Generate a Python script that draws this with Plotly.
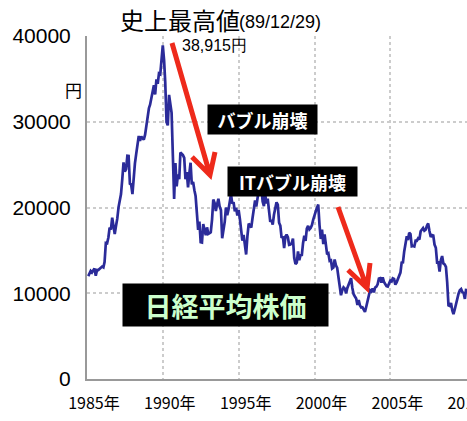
import pandas as pd
import plotly.graph_objects as go

# Nikkei 225 month-end closes (yen)
close_1985_1989 = [
    11992, 12322, 12590, 12426, 12758, 12882, 12044, 12720, 12700, 12828, 12960, 13113,
    13024, 13641, 15860, 15826, 16507, 17654, 17435, 18820, 17853, 16910, 17852, 18701,
    20048, 20767, 21567, 23275, 25268, 24176, 24488, 26029, 26011, 22765, 22687, 21564,
    23622, 25142, 26260, 27434, 28342, 27769, 28290, 28072, 27924, 28488, 29579, 30159,
    31581, 31985, 32838, 33713, 34266, 33183, 34954, 34431, 35636, 35549, 37268, 38915,
]
close_1990_1994 = [
    37188, 34591, 29980, 29584, 33131, 31940, 31035, 25978, 20983, 25194, 22455, 23848,
    23293, 26409, 26292, 26111, 25789, 23291, 24120, 22335, 23916, 25222, 22687, 22983,
    22023, 21338, 19345, 17390, 18347, 15951, 15910, 18061, 17399, 16767, 17683, 16924,
    17023, 17113, 18591, 20919, 20552, 19590, 20380, 21027, 20106, 19703, 16408, 17417,
    18353, 19997, 19112, 19725, 20973, 21552, 20449, 20629, 19564, 19990, 19076, 19723,
]
close_1995_1999 = [
    18650, 17053, 16140, 16807, 15437, 14517, 16678, 18117, 17913, 17655, 18744, 19868,
    20812, 20125, 21406, 22041, 21956, 22530, 20692, 20167, 21556, 20466, 21020, 19361,
    18330, 18557, 18003, 19151, 20068, 20604, 20331, 18229, 17888, 16458, 16636, 15258,
    16628, 16831, 16527, 15641, 15671, 15830, 16379, 14108, 13406, 13564, 14883, 13842,
    14499, 14367, 15837, 16702, 16112, 17530, 17862, 17437, 17605, 17942, 18558, 18934,
]
close_2000_2004 = [
    19540, 19960, 20337, 17974, 16332, 17411, 15727, 16861, 15747, 14539, 14649, 13785,
    13844, 12883, 12999, 13934, 13262, 12969, 11860, 10713, 9774, 10366, 10697, 10542,
    9997, 10587, 11024, 11492, 11763, 10621, 9877, 9619, 9383, 8640, 9215, 8578,
    8339, 8363, 7972, 7831, 8424, 9083, 9563, 10343, 10219, 10559, 10100, 10676,
    10783, 11041, 11715, 11761, 11236, 11858, 11325, 11081, 10823, 10771, 11072, 11488,
]
close_2005_2009 = [
    11387, 11740, 11668, 11008, 11276, 11584, 11899, 12413, 13574, 13606, 14872, 16111,
    16649, 16205, 17059, 16906, 15467, 15505, 15456, 16140, 16127, 16399, 16274, 17225,
    17383, 17604, 17287, 17400, 17875, 18138, 17248, 16569, 16785, 16737, 15680, 15307,
    13592, 13603, 12525, 13849, 14338, 13481, 13376, 13072, 11259, 8576, 8512, 8859,
    7994, 7568, 8109, 8828, 9522, 9958, 10356, 10492, 10133, 10034, 9345, 10546,
]

closes = close_1985_1989 + close_1990_1994 + close_1995_1999 + close_2000_2004 + close_2005_2009
dates = pd.date_range(start="1985-01-31", periods=len(closes), freq="ME")

# plot area in pixels, used to place the overlay texts and arrows
L, R, T, B = 87, 467, 36, 379


def px(x, y):
    return (x - L) / (R - L), (B - y) / (B - T)


def arrow_path(start, tip, wing1, wing2):
    p = [px(*pt) for pt in (start, tip, wing1, wing2)]
    return (
        f"M {p[0][0]} {p[0][1]} L {p[1][0]} {p[1][1]} "
        f"M {p[2][0]} {p[2][1]} L {p[1][0]} {p[1][1]} L {p[3][0]} {p[3][1]}"
    )


fig = go.Figure()
fig.add_trace(
    go.Scatter(
        x=dates,
        y=closes,
        mode="lines",
        line=dict(color="#2b2b99", width=2.7),
        showlegend=False,
        hoverinfo="skip",
    )
)

red = "#ee2a1b"
for start, tip, w1, w2 in [
    ((172, 43), (210, 175), (192, 157), (215, 152)),
    ((338, 207), (367, 288), (348, 270), (370, 263)),
]:
    fig.add_shape(
        type="path",
        xref="paper",
        yref="paper",
        path=arrow_path(start, tip, w1, w2),
        line=dict(color=red, width=5),
    )

jp = "Noto Sans CJK JP"
arial = "Liberation Sans"
ann = []
x, y = px(118, 20)
ann.append(dict(
    x=x, y=y, xanchor="left", yanchor="middle", text="史上最高値",
    font=dict(family=jp, size=24, color="black"),
))
x, y = px(237, 22)
ann.append(dict(
    x=x, y=y, xanchor="left", yanchor="middle", text="(89/12/29)",
    font=dict(family=arial, size=18, color="black"),
))
x, y = px(63, 75)
ann.append(dict(x=x, y=y, text="円", font=dict(family=jp, size=17, color="black")))
x, y = px(180, 45)
ann.append(dict(
    x=x, y=y, xanchor="left", yanchor="middle", text="38,915円",
    font=dict(family=arial, size=16, color="black"),
))
x, y = px(262.5, 104.5)
ann.append(dict(
    x=x, y=y, text="<b>バブル崩壊</b>", bgcolor="black", borderpad=0, width=109, height=29,
    font=dict(family=jp, size=18, color="white"),
))
x, y = px(357.5, 181.5)
ann.append(dict(
    x=x, y=y, text="<b>ITバブル崩壊</b>", bgcolor="black", borderpad=0, width=129, height=29,
    font=dict(family=jp, size=18, color="white"),
))
x, y = px(225.5, 327)
ann.append(dict(
    x=x, y=y, text="<b>日経平均株価</b>", bgcolor="black", borderpad=0, width=205, height=42,
    font=dict(family=jp, size=27, color="#ccffcc"),
))
for a in ann:
    a.update(xref="paper", yref="paper", showarrow=False)

fig.update_layout(
    width=467,
    height=421,
    margin=dict(l=L, r=467 - R, t=T, b=421 - B, autoexpand=False),
    paper_bgcolor="white",
    plot_bgcolor="white",
    annotations=ann,
)
fig.update_xaxes(
    type="date",
    range=["1985-01-01", "2010-01-20"],
    tick0="1985-01-01",
    dtick="M60",
    tickformat="%Y年",
    tickfont=dict(family=jp, size=16, color="black"),
    ticklabelstandoff=9,
    ticklabelshift=7,
    ticklabeloverflow="allow",
    automargin=False,
    showline=True,
    linecolor="#999999",
    linewidth=2,
    showgrid=True,
    gridcolor="#cccccc",
    griddash="dot",
    gridwidth=1.5,
    zeroline=False,
)
fig.update_yaxes(
    range=[0, 40000],
    dtick=10000,
    tickformat="d",
    tickfont=dict(family=arial, size=21, color="black"),
    ticklabelstandoff=10,
    automargin=False,
    showline=True,
    linecolor="#999999",
    linewidth=2,
    showgrid=True,
    gridcolor="#cccccc",
    griddash="dot",
    gridwidth=1.5,
    zeroline=False,
)

# the page's default body margin would push the figure off the window
fig.write_html(
    "out.html",
    config={"displayModeBar": False},
    post_script="document.body.style.margin='0';",
)
